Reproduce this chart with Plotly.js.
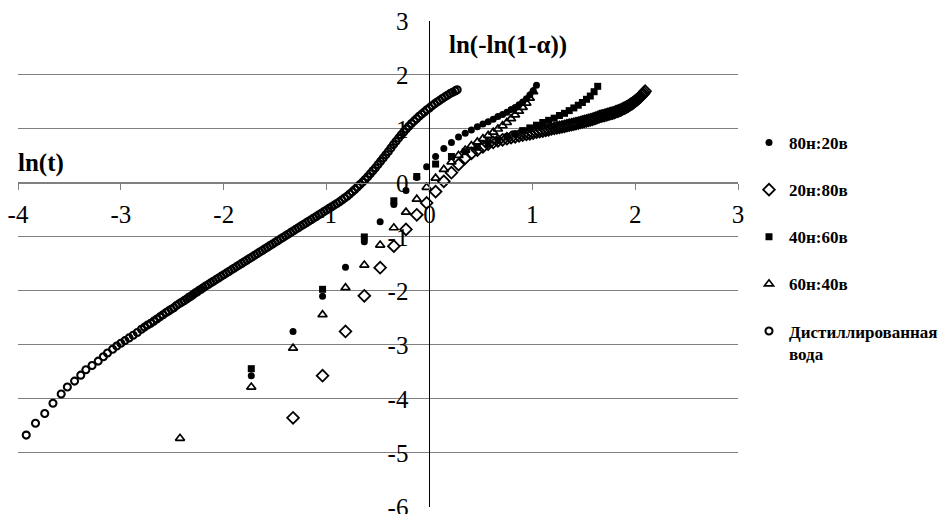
<!DOCTYPE html>
<html><head><meta charset="utf-8">
<script src="https://cdn.plot.ly/plotly-3.0.1.min.js"></script>
<style>html,body{margin:0;padding:0;background:#fff}#chart{width:944px;height:514px}</style>
</head><body><div id="chart"></div>
<script>
// Series names (legend order)
const seriesNames = ['80н:20в', '20н:80в', '40н:60в', '60н:40в', 'Дистиллированная<br>вода'];

// 80н:20в (filled circles)
const s8020_x = [-1.732,-1.326,-1.039,-0.816,-0.633,-0.479,-0.346,-0.228,-0.123,-0.027,0.060,0.140,0.214,0.283,0.348,0.408,0.466,0.520,0.571,0.620,0.666,0.711,0.753,0.794,0.833,0.871,0.907,0.943,0.976,1.009,1.041];
const s8020_y = [-3.57,-2.75,-2.10,-1.56,-1.09,-0.72,-0.40,-0.14,0.10,0.30,0.49,0.64,0.75,0.85,0.92,0.98,1.04,1.09,1.135,1.18,1.23,1.27,1.31,1.36,1.40,1.45,1.50,1.56,1.63,1.71,1.81];

// 20н:80в (open diamonds)
const s2080_x = [-1.326,-1.039,-0.816,-0.633,-0.479,-0.346,-0.228,-0.123,-0.027,0.060,
 0.140,0.214,0.283,0.348,0.408,0.466,0.520,0.571,0.620,0.666,
 0.711,0.753,0.794,0.833,0.871,0.907,0.943,0.976,1.009,1.041,
 1.072,1.102,1.131,1.159,1.186,1.213,1.239,1.264,1.289,1.313,
 1.336,1.359,1.382,1.404,1.425,1.447,1.467,1.487,1.507,1.527,
 1.546,1.564,1.583,1.601,1.618,1.636,1.653,1.670,1.686,1.702,
 1.718,1.734,1.750,1.765,1.780,1.795,1.809,1.824,1.838,1.852,
 1.866,1.879,1.893,1.906,1.919,1.932,1.945,1.957,1.970,1.982,
 1.994,2.006,2.018,2.030,2.041,2.053,2.064,2.075,2.086,2.097];
const s2080_y = [-4.35,-3.57,-2.75,-2.09,-1.57,-1.17,-0.86,-0.59,-0.37,-0.16,
 0.03,0.19,0.34,0.46,0.55,0.61,0.67,0.72,0.75,0.78,
 0.80,0.82,0.84,0.855,0.87,0.885,0.90,0.91,0.925,0.94,
 0.95,0.96,0.975,0.985,1.00,1.01,1.02,1.03,1.04,1.05,
 1.06,1.07,1.08,1.09,1.10,1.11,1.12,1.13,1.14,1.15,
 1.16,1.17,1.18,1.19,1.20,1.215,1.23,1.24,1.245,1.25,
 1.26,1.27,1.28,1.29,1.295,1.305,1.315,1.325,1.335,1.345,
 1.36,1.37,1.385,1.395,1.41,1.425,1.44,1.455,1.47,1.49,
 1.505,1.525,1.54,1.56,1.58,1.60,1.625,1.645,1.67,1.70];

// 40н:60в (filled squares)
const s4060_x = [-1.732,-1.039,-0.633,-0.346,-0.123,0.060,0.214,0.348,0.466,0.571,0.666,0.753,0.833,0.907,0.976,1.041,1.102,1.159,1.213,1.264,1.313,1.359,1.404,1.447,1.487,1.527,1.564,1.601,1.636];
const s4060_y = [-3.44,-1.97,-1.00,-0.33,0.12,0.35,0.49,0.58,0.66,0.72,0.79,0.85,0.91,0.97,1.02,1.07,1.12,1.16,1.20,1.25,1.29,1.34,1.39,1.44,1.49,1.55,1.61,1.69,1.79];

// 60н:40в (open triangles)
const s6040_x = [-2.425,-1.732,-1.326,-1.039,-0.816,-0.633,-0.479,-0.346,-0.228,-0.123,-0.027,0.060,0.140,0.214,0.283,0.348,0.408,0.466,0.520,0.571,0.620,0.666,0.711,0.753,0.794,0.833,0.871,0.907,0.943,0.976,1.009];
const s6040_y = [-4.73,-3.78,-3.06,-2.44,-1.94,-1.52,-1.15,-0.83,-0.54,-0.30,-0.08,0.09,0.25,0.39,0.51,0.61,0.69,0.76,0.82,0.88,0.94,1.00,1.06,1.12,1.19,1.26,1.33,1.40,1.48,1.57,1.69];

// Дистиллированная вода (open circles)
const water_x = [-3.92,-3.83,-3.74,-3.66,-3.58,-3.52,-3.45,-3.39,-3.34,-3.28,-3.22,-3.17,-3.13,-3.08,-3.04,-3.00,
 -2.96,-2.92,-2.88,-2.84,-2.80,-2.77,-2.74,-2.71,-2.68,-2.65,-2.62,-2.59,-2.56,-2.535,-2.51,-2.485,-2.46,-2.435,-2.41,-2.385,-2.36,-2.34,-2.32,-2.30,-2.28,-2.26,-2.24,-2.22,
 -2.200,-2.175,-2.150,-2.125,-2.100,-2.075,-2.050,-2.025,-2.000,-1.975,-1.950,-1.925,-1.900,-1.875,-1.850,-1.825,
 -1.800,-1.775,-1.750,-1.725,-1.700,-1.675,-1.650,-1.625,-1.600,-1.575,-1.550,-1.525,-1.500,-1.475,-1.450,-1.425,
 -1.400,-1.375,-1.350,-1.325,-1.300,-1.275,-1.250,-1.225,-1.200,-1.175,-1.150,-1.125,-1.100,-1.075,-1.050,-1.025,
 -1.000,-0.975,-0.950,-0.925,-0.900,-0.875,-0.850,-0.825,-0.800,-0.775,-0.750,-0.725,-0.700,-0.675,-0.650,-0.625,
 -0.600,-0.575,-0.550,-0.525,-0.500,-0.475,-0.450,-0.425,-0.400,-0.375,-0.350,-0.325,-0.300,-0.275,-0.250,-0.225,
 -0.200,-0.175,-0.150,-0.125,-0.100,-0.075,-0.050,-0.025,0.000,0.025,0.050,0.075,0.100,0.125,0.150,0.175,
 0.200,0.225,0.250,0.270];
const water_y = [-4.67,-4.45,-4.27,-4.08,-3.91,-3.78,-3.67,-3.56,-3.46,-3.38,-3.30,-3.22,-3.15,-3.08,-3.02,-2.97,
 -2.92,-2.87,-2.82,-2.77,-2.71,-2.67,-2.63,-2.60,-2.56,-2.52,-2.48,-2.44,-2.40,-2.37,-2.34,-2.31,-2.27,-2.24,-2.21,-2.18,-2.15,-2.12,-2.10,-2.07,-2.04,-2.02,-1.99,-1.97,
 -1.94,-1.91,-1.88,-1.85,-1.82,-1.79,-1.76,-1.73,-1.70,-1.67,-1.64,-1.61,-1.58,-1.55,-1.52,-1.49,
 -1.46,-1.43,-1.40,-1.37,-1.34,-1.31,-1.28,-1.25,-1.22,-1.19,-1.16,-1.13,-1.10,-1.07,-1.04,-1.01,
 -0.98,-0.95,-0.92,-0.89,-0.86,-0.83,-0.80,-0.77,-0.74,-0.71,-0.68,-0.65,-0.62,-0.59,-0.56,-0.53,
 -0.50,-0.47,-0.44,-0.41,-0.38,-0.35,-0.315,-0.28,-0.245,-0.205,-0.165,-0.12,-0.075,-0.03,0.015,0.065,
 0.115,0.17,0.225,0.28,0.34,0.40,0.46,0.52,0.58,0.645,0.71,0.77,0.83,0.89,0.945,1.00,
 1.05,1.10,1.145,1.19,1.235,1.275,1.315,1.355,1.39,1.43,1.465,1.50,1.53,1.565,1.595,1.625,
 1.655,1.68,1.705,1.725];

// Axis tick values
const xTicks = [-4,-3,-2,-1,0,1,2,3];
const yTicks = [-6,-5,-4,-3,-2,-1,0,1,2,3];

const FONT = 'Liberation Serif, serif';

const traces = [
  {x: s8020_x, y: s8020_y, name: seriesNames[0], legendgroup: 'g1',
   marker: {symbol: 'circle', size: 7, color: '#000'}},
  {x: s2080_x, y: s2080_y, name: seriesNames[1], legendgroup: 'g2',
   marker: {symbol: 'diamond-open', size: 9, color: '#000', line: {width: 1.8, color: '#000'}}},
  {x: s4060_x, y: s4060_y, name: seriesNames[2], legendgroup: 'g3',
   marker: {symbol: 'square', size: 7, color: '#000'}},
  {x: s6040_x, y: s6040_y, name: seriesNames[3], legendgroup: 'g4',
   marker: {symbol: 'triangle-up-open', size: 8, color: '#000', line: {width: 1.7, color: '#000'}}},
  {x: water_x, y: water_y, name: seriesNames[4], legendgroup: 'g5',
   marker: {symbol: 'circle-open', size: 7, color: '#000', line: {width: 2.1, color: '#000'}}}
].map(t => Object.assign({type: 'scatter', mode: 'markers', hoverinfo: 'x+y'}, t));

const L = 18, R = 738, T = 21, B = 507, W = 944, H = 514;
const px = v => (v - L) / (R - L);
const py = v => (B - v) / (B - T);

const layout = {
  width: W, height: H,
  margin: {l: L, r: W - R, t: T, b: H - B, pad: 0, autoexpand: false},
  paper_bgcolor: '#fff', plot_bgcolor: '#fff',
  font: {family: FONT, color: '#000'},
  showlegend: true,
  xaxis: {
    range: [-4, 3], tickmode: 'array', tickvals: xTicks, ticktext: xTicks.map(String),
    showgrid: false, zeroline: false, showline: true, linecolor: '#808080', linewidth: 1,
    ticks: 'outside', ticklen: 6, tickwidth: 1, tickcolor: '#808080',
    tickfont: {family: FONT, size: 25, color: '#000'},
    anchor: 'free', position: 6 / 9, automargin: false, ticklabelstandoff: 3,
    ticklabeloverflow: 'allow', fixedrange: true
  },
  yaxis: {
    range: [-6.002, 3.0], tickmode: 'array', tickvals: yTicks, ticktext: yTicks.map(String),
    showgrid: true, gridcolor: '#808080', gridwidth: 1, zeroline: false,
    showline: true, linecolor: '#000', linewidth: 1, ticks: '',
    tickfont: {family: FONT, size: 25, color: '#000'},
    anchor: 'free', position: 4 / 7, automargin: false, ticklabelstandoff: 16,
    ticklabeloverflow: 'allow', fixedrange: true
  },
  legend: {
    x: px(749), y: py(125), xanchor: 'left', yanchor: 'top',
    font: {family: FONT, size: 17, color: '#000', weight: 'bold'},
    tracegroupgap: 22, valign: 'top', bgcolor: 'rgba(0,0,0,0)', borderwidth: 0
  },
  annotations: [
    {text: '<b>ln(t)</b>', xref: 'paper', yref: 'paper', x: px(16), y: py(163),
     xanchor: 'left', yanchor: 'middle', showarrow: false, font: {family: FONT, size: 25, color: '#000'}},
    {text: '<b>ln(-ln(1-α))</b>', xref: 'paper', yref: 'paper', x: px(447), y: py(45),
     xanchor: 'left', yanchor: 'middle', showarrow: false, font: {family: FONT, size: 25, color: '#000'}}
  ]
};

Plotly.newPlot('chart', traces, layout, {displayModeBar: false, staticPlot: true});
</script>
</body></html>
